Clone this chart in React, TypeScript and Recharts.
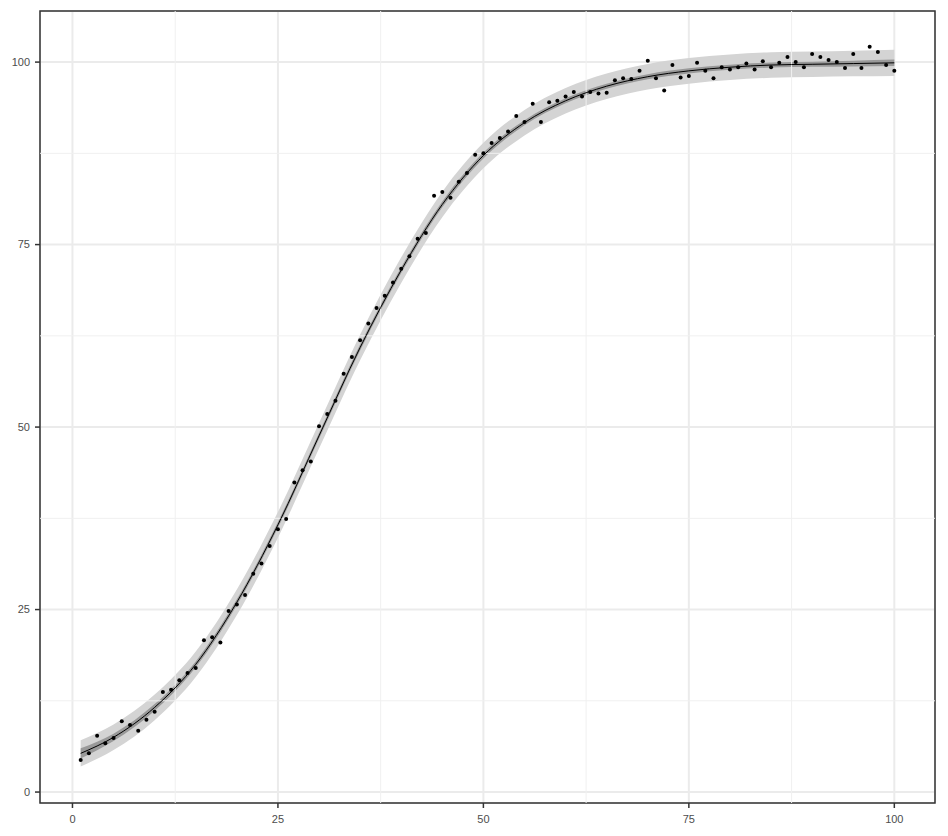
import {
  ComposedChart,
  Area,
  Line,
  Scatter,
  XAxis,
  YAxis,
  CartesianGrid,
  ReferenceLine,
  ReferenceArea,
} from "recharts";

// observed values, x = 1..100
const pointsY = [
  4.4, 5.3, 7.7, 6.7, 7.4, 9.7, 9.2, 8.4, 9.9, 11.0,
  13.7, 14.0, 15.3, 16.3, 17.0, 20.8, 21.2, 20.5, 24.8, 25.7,
  27.0, 29.9, 31.3, 33.7, 36.0, 37.4, 42.4, 44.1, 45.3, 50.1,
  51.8, 53.6, 57.3, 59.6, 61.9, 64.2, 66.3, 68.0, 69.8, 71.7,
  73.4, 75.8, 76.6, 81.7, 82.2, 81.4, 83.6, 84.8, 87.3, 87.5,
  88.9, 89.6, 90.5, 92.6, 91.8, 94.3, 91.8, 94.5, 94.7, 95.3,
  95.9, 95.3, 95.9, 95.7, 95.8, 97.5, 97.8, 97.7, 98.8, 100.2,
  97.8, 96.1, 99.6, 97.9, 98.1, 99.9, 98.8, 97.8, 99.3, 99.0,
  99.3, 99.8, 99.0, 100.1, 99.3, 99.9, 100.7, 100.0, 99.3, 101.1,
  100.7, 100.3, 100.0, 99.2, 101.1, 99.2, 102.1, 101.4, 99.6, 98.8,
];

// fitted curve with confidence (inner) and prediction (outer) bands
const fitX = [1, 5, 10, 15, 20, 25, 30, 35, 40, 45, 50, 55, 60, 65, 70, 75, 80, 85, 90, 95, 100];
const fitY = [5.3, 7.5, 11.6, 17.5, 26.0, 36.6, 48.8, 60.9, 71.5, 80.5, 87.2, 91.7, 94.7, 96.7, 98.0, 98.8, 99.3, 99.6, 99.7, 99.8, 99.9];
const innerLo = [4.6, 7.0, 11.15, 17.1, 25.6, 36.2, 48.4, 60.5, 71.1, 80.1, 86.8, 91.35, 94.35, 96.35, 97.65, 98.45, 98.95, 99.25, 99.35, 99.4, 99.45];
const innerHi = [6.0, 8.0, 12.05, 17.9, 26.4, 37.0, 49.2, 61.3, 71.9, 80.9, 87.6, 92.05, 95.05, 97.05, 98.35, 99.15, 99.65, 99.95, 100.05, 100.2, 100.35];
const outerLo = [3.5, 5.75, 9.85, 15.75, 24.25, 34.85, 47.05, 59.15, 69.75, 78.75, 85.45, 89.95, 92.95, 94.95, 96.25, 97.05, 97.55, 97.85, 97.95, 98.05, 98.1];
const outerHi = [7.1, 9.25, 13.35, 19.25, 27.75, 38.35, 50.55, 62.65, 73.25, 82.25, 88.95, 93.45, 96.45, 98.45, 99.75, 100.55, 101.05, 101.35, 101.45, 101.55, 101.7];

const majorTicks = [0, 25, 50, 75, 100];
const minorTicks = [12.5, 37.5, 62.5, 87.5];

const X_DOMAIN: [number, number] = [-3.95, 104.95];
const Y_DOMAIN: [number, number] = [-1.5, 107];

const fitData = fitX.map((x, i) => ({
  x,
  fit: fitY[i],
  inner: [innerLo[i], innerHi[i]],
  outer: [outerLo[i], outerHi[i]],
}));

const pointData = pointsY.map((y, i) => ({ x: i + 1, y }));

const tickStyle = { fill: "#4d4d4d", fontSize: 11, fontFamily: "'Liberation Sans', Arial, sans-serif" };

export default function App() {
  return (
    <div style={{ width: 932, height: 818 }}>
      <ComposedChart
        width={932}
        height={818}
        data={fitData}
        margin={{ top: 3, right: 5, bottom: 0, left: 0 }}
      >
        <CartesianGrid stroke="#ebebeb" strokeWidth={2} />
        {minorTicks.map((t) => (
          <ReferenceLine key={"mx" + t} x={t} stroke="#f0f0f0" strokeWidth={1} />
        ))}
        {minorTicks.map((t) => (
          <ReferenceLine key={"my" + t} y={t} stroke="#f0f0f0" strokeWidth={1} />
        ))}
        <XAxis
          dataKey="x"
          type="number"
          domain={X_DOMAIN}
          ticks={majorTicks}
          allowDataOverflow
          height={23}
          axisLine={false}
          tickSize={5}
          tickMargin={7}
          tickLine={{ stroke: "#333333", strokeWidth: 1.5 }}
          tick={tickStyle}
        />
        <YAxis
          type="number"
          domain={Y_DOMAIN}
          ticks={majorTicks}
          allowDataOverflow
          width={32}
          axisLine={false}
          tickSize={5}
          tickMargin={5}
          tickLine={{ stroke: "#333333", strokeWidth: 1.5 }}
          tick={tickStyle}
        />
        <Area
          type="monotone"
          dataKey="outer"
          stroke="none"
          fill="#d4d4d4"
          fillOpacity={1}
          isAnimationActive={false}
        />
        <Area
          type="monotone"
          dataKey="inner"
          stroke="none"
          fill="#999999"
          fillOpacity={1}
          isAnimationActive={false}
        />
        <Line
          type="monotone"
          dataKey="fit"
          stroke="#000000"
          strokeWidth={1}
          dot={false}
          isAnimationActive={false}
        />
        <Scatter
          data={pointData}
          dataKey="y"
          fill="#000000"
          isAnimationActive={false}
          shape={(props: any) => (
            <circle cx={props.cx} cy={props.cy} r={2} fill="#000000" />
          )}
        />
        <ReferenceArea
          x1={X_DOMAIN[0]}
          x2={X_DOMAIN[1]}
          y1={Y_DOMAIN[0]}
          y2={Y_DOMAIN[1]}
          fill="none"
          fillOpacity={0}
          stroke="#333333"
          strokeWidth={1.5}
        />
      </ComposedChart>
    </div>
  );
}
